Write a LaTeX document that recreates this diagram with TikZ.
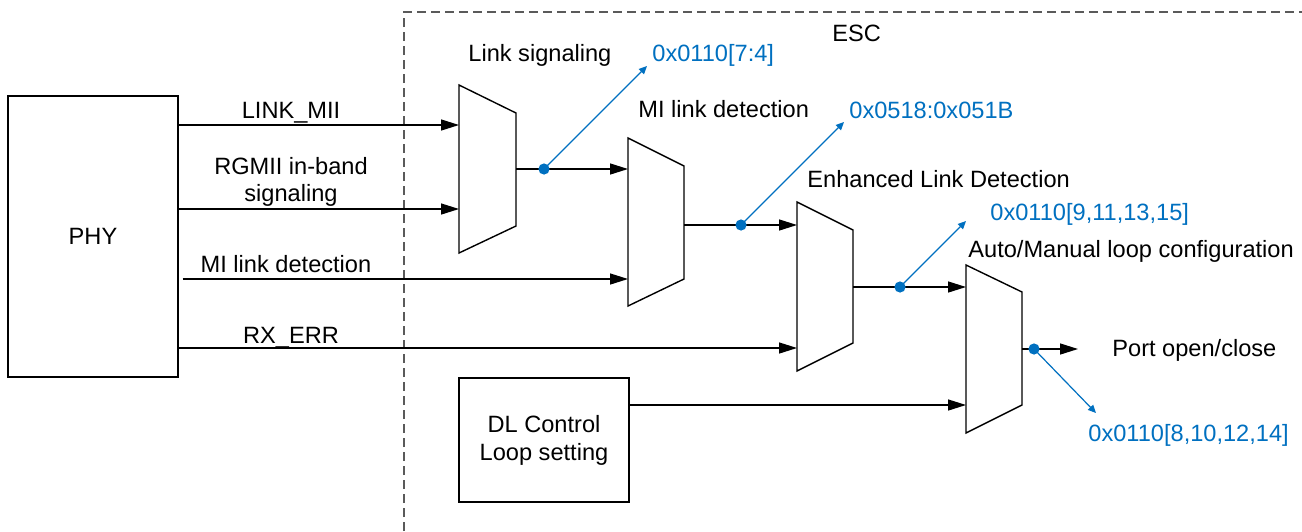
\documentclass[tikz,border=0pt]{standalone}
\usepackage{fontspec}
\setmainfont{Liberation Sans}
\usetikzlibrary{arrows.meta}
\definecolor{regblue}{RGB}{0,112,192}
\definecolor{dashgray}{RGB}{90,90,90}
\begin{document}
\begin{tikzpicture}[x=0.5pt,y=-0.5pt,
  font=\fontsize{11.8}{14}\selectfont,
  wire/.style={line width=0.7pt, -{Triangle[length=9pt,width=5.5pt]}},
  regline/.style={regblue, line width=0.6pt, -{Triangle[length=4pt,width=3.6pt]}},
  regdot/.style={circle, fill=regblue, inner sep=0pt, minimum size=5.6pt},
  lbl/.style={inner sep=0pt, anchor=base west},
  clbl/.style={inner sep=0pt, anchor=base},
  reg/.style={lbl, text=regblue},
  muxbox/.style={draw, line width=0.7pt, fill=white, line join=miter},
  blk/.style={draw, line width=0.7pt, inner sep=0pt, align=center},
  escline/.style={dashgray, line width=0.7pt, dash pattern=on 4.5pt off 2.5pt}
]
\useasboundingbox (0,0) rectangle (1302,531);

% ESC boundary
\draw[escline] (404,531) -- (404,12) -- (1302,12);
\node[lbl] (esc) at (832,41.7) {ESC};

% blocks
\node[blk, minimum width=85pt, minimum height=140.5pt] (phy) at (93,236.5) {PHY};
\node[blk, minimum width=85pt, minimum height=62pt] (dl) at (544,440) {DL Control\\Loop setting};

% multiplexers
\draw[muxbox] (459,85) -- (516,113) -- (516,226) -- (459,253) -- cycle;
\coordinate (m1a) at (459,125);
\coordinate (m1b) at (459,209);
\coordinate (m1o) at (516,169);

\draw[muxbox] (628,138) -- (684,166) -- (684,279) -- (628,306) -- cycle;
\coordinate (m2a) at (628,169);
\coordinate (m2b) at (628,279);
\coordinate (m2o) at (684,225);

\draw[muxbox] (797,202) -- (853,230) -- (853,343) -- (797,371) -- cycle;
\coordinate (m3a) at (797,225);
\coordinate (m3b) at (797,348);
\coordinate (m3o) at (853,287);

\draw[muxbox] (966,265) -- (1022,292) -- (1022,405) -- (966,433) -- cycle;
\coordinate (m4a) at (966,287);
\coordinate (m4b) at (966,405);
\coordinate (m4o) at (1022,349);
\coordinate (portend) at (1078,349);

% signal wires
\draw[wire] (phy.east |- m1a) -- (m1a);
\draw[wire] (phy.east |- m1b) -- (m1b);
\draw[wire] ([xshift=2pt]phy.east |- m2b) -- (m2b);
\draw[wire] (phy.east |- m3b) -- (m3b);
\draw[wire] (dl.east |- m4b) -- (m4b);
\draw[wire] (m1o) -- (m2a);
\draw[wire] (m2o) -- (m3a);
\draw[wire] (m3o) -- (m4a);
\draw[wire] (m4o) -- (portend);

% register taps
\coordinate (t1) at (647,66);
\coordinate (t2) at (844,122);
\coordinate (t3) at (966,221);
\coordinate (t4) at (1096,413);
\coordinate (p1) at (544,169);
\coordinate (p2) at (741,225);
\coordinate (p3) at (900,287);
\coordinate (p4) at (1034,349);
\draw[regline] (p1) -- (t1);
\draw[regline] (p2) -- (t2);
\draw[regline] (p3) -- (t3);
\draw[regline] (p4) -- (t4);
\node[regdot] (d1) at (p1) {};
\node[regdot] (d2) at (p2) {};
\node[regdot] (d3) at (p3) {};
\node[regdot] (d4) at (p4) {};

% labels
\node[clbl] (l1) at (291,118.3) {LINK\_MII};
\node[clbl] (l2) at (291,174) {RGMII in-band};
\node[clbl] (l3) at (291,201.7) {signaling};
\node[clbl] (l4) at (286,272.7) {MI link detection};
\node[clbl] (l5) at (291,343.3) {RX\_ERR};

\node[lbl] (s1) at (468,61.7) {Link signaling};
\node[reg] (r1) at (652,61.7) {0x0110[7:4]};
\node[lbl] (s2) at (638,117.3) {MI link detection};
\node[reg] (r2) at (849,118.3) {0x0518:0x051B};
\node[lbl] (s3) at (807,187.3) {Enhanced Link Detection};
\node[reg] (r3) at (990,220.7) {0x0110[9,11,13,15]};
\node[lbl] (s4) at (968,257.3) {Auto/Manual loop configuration};
\node[lbl] (s5) at (1112,356.7) {Port open/close};
\node[reg] (r4) at (1088,441.7) {0x0110[8,10,12,14]};
\end{tikzpicture}
\end{document}
